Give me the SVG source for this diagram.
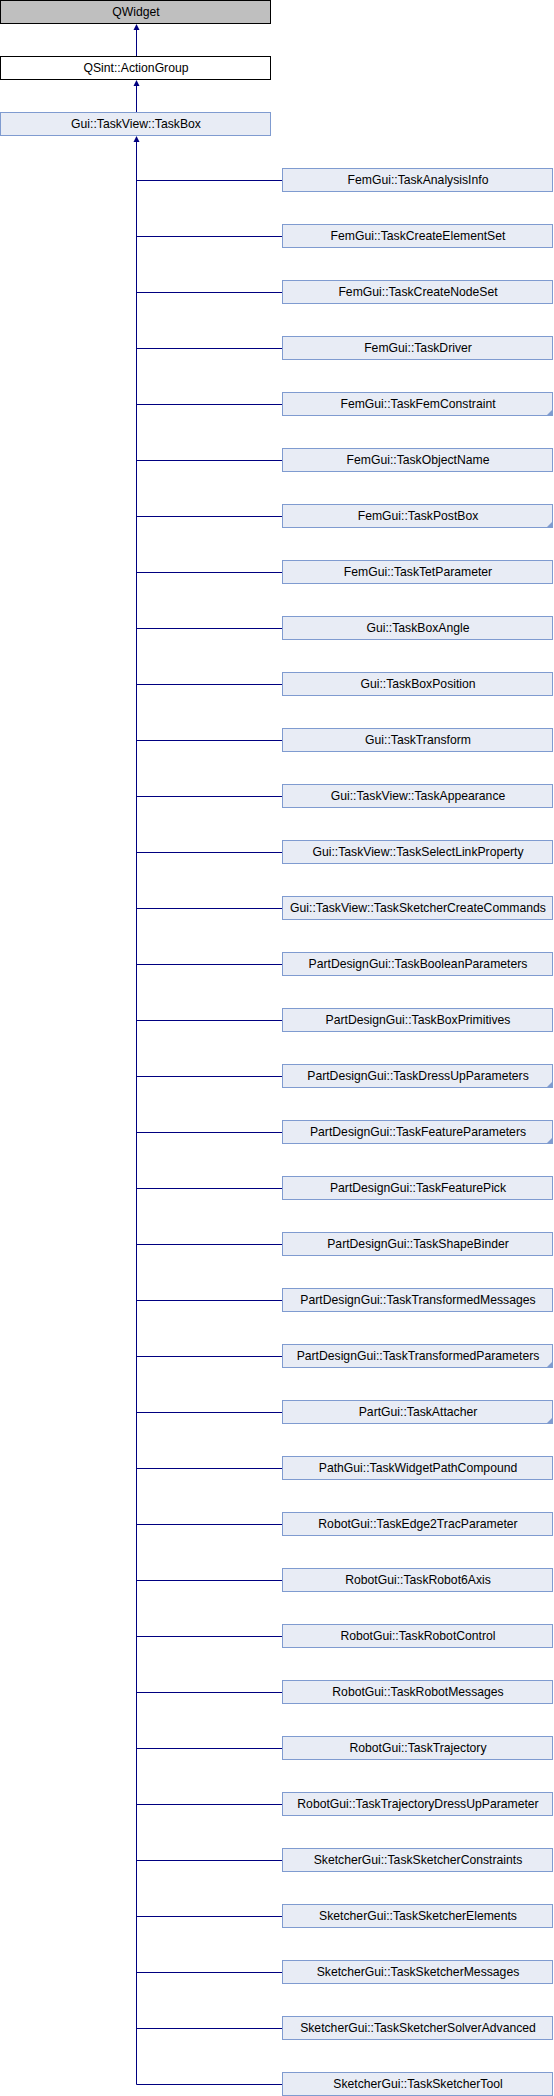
<svg xmlns="http://www.w3.org/2000/svg" width="554" height="2096" viewBox="0 0 554 2096">
<style>
rect.n{fill:#e8ecf5;stroke:#7f9bd0;stroke-width:1}
rect.g{fill:#bfbfbf;stroke:#000;stroke-width:1}
rect.w{fill:#fff;stroke:#000;stroke-width:1}
text{font-family:"Liberation Sans",Arial,sans-serif;font-size:12.2px;fill:#000;text-anchor:middle}
.c{fill:#7f9bd0}
#edges line,#edges path{stroke:#000080;stroke-width:1;fill:none}
.ah{fill:#000080}
</style>
<g id="edges">
<line x1="136.5" y1="30" x2="136.5" y2="56"/>
<polygon class="ah" points="136.5,24 133.5,30 139.5,30"/>
<line x1="136.5" y1="86" x2="136.5" y2="112"/>
<polygon class="ah" points="136.5,80 133.5,86 139.5,86"/>
<line x1="136.5" y1="142" x2="136.5" y2="2084.5"/>
<polygon class="ah" points="136.5,136 133.5,142 139.5,142"/>
<path d="M136.5 180.5H282M136.5 236.5H282M136.5 292.5H282M136.5 348.5H282M136.5 404.5H282M136.5 460.5H282M136.5 516.5H282M136.5 572.5H282M136.5 628.5H282M136.5 684.5H282M136.5 740.5H282M136.5 796.5H282M136.5 852.5H282M136.5 908.5H282M136.5 964.5H282M136.5 1020.5H282M136.5 1076.5H282M136.5 1132.5H282M136.5 1188.5H282M136.5 1244.5H282M136.5 1300.5H282M136.5 1356.5H282M136.5 1412.5H282M136.5 1468.5H282M136.5 1524.5H282M136.5 1580.5H282M136.5 1636.5H282M136.5 1692.5H282M136.5 1748.5H282M136.5 1804.5H282M136.5 1860.5H282M136.5 1916.5H282M136.5 1972.5H282M136.5 2028.5H282M136.5 2084.5H282"/>
</g>
<g id="QWidget"><rect class="g" x="0.5" y="0.5" width="270" height="23"/><text x="136" y="16">QWidget</text></g>
<g id="ActionGroup"><rect class="w" x="0.5" y="56.5" width="270" height="23"/><text x="136" y="72">QSint::ActionGroup</text></g>
<g id="TaskBox"><rect class="n" x="0.5" y="112.5" width="270" height="23"/><text x="136" y="128">Gui::TaskView::TaskBox</text></g>
<g id="n1"><rect class="n" x="282.5" y="168.5" width="270" height="23"/><text x="418" y="184">FemGui::TaskAnalysisInfo</text></g>
<g id="n2"><rect class="n" x="282.5" y="224.5" width="270" height="23"/><text x="418" y="240">FemGui::TaskCreateElementSet</text></g>
<g id="n3"><rect class="n" x="282.5" y="280.5" width="270" height="23"/><text x="418" y="296">FemGui::TaskCreateNodeSet</text></g>
<g id="n4"><rect class="n" x="282.5" y="336.5" width="270" height="23"/><text x="418" y="352">FemGui::TaskDriver</text></g>
<g id="n5"><rect class="n" x="282.5" y="392.5" width="270" height="23"/><polygon class="c" points="553,409 553,416 546,416"/><text x="418" y="408">FemGui::TaskFemConstraint</text></g>
<g id="n6"><rect class="n" x="282.5" y="448.5" width="270" height="23"/><text x="418" y="464">FemGui::TaskObjectName</text></g>
<g id="n7"><rect class="n" x="282.5" y="504.5" width="270" height="23"/><polygon class="c" points="553,521 553,528 546,528"/><text x="418" y="520">FemGui::TaskPostBox</text></g>
<g id="n8"><rect class="n" x="282.5" y="560.5" width="270" height="23"/><text x="418" y="576">FemGui::TaskTetParameter</text></g>
<g id="n9"><rect class="n" x="282.5" y="616.5" width="270" height="23"/><text x="418" y="632">Gui::TaskBoxAngle</text></g>
<g id="n10"><rect class="n" x="282.5" y="672.5" width="270" height="23"/><text x="418" y="688">Gui::TaskBoxPosition</text></g>
<g id="n11"><rect class="n" x="282.5" y="728.5" width="270" height="23"/><text x="418" y="744">Gui::TaskTransform</text></g>
<g id="n12"><rect class="n" x="282.5" y="784.5" width="270" height="23"/><text x="418" y="800">Gui::TaskView::TaskAppearance</text></g>
<g id="n13"><rect class="n" x="282.5" y="840.5" width="270" height="23"/><text x="418" y="856">Gui::TaskView::TaskSelectLinkProperty</text></g>
<g id="n14"><rect class="n" x="282.5" y="896.5" width="270" height="23"/><text x="418" y="912">Gui::TaskView::TaskSketcherCreateCommands</text></g>
<g id="n15"><rect class="n" x="282.5" y="952.5" width="270" height="23"/><text x="418" y="968">PartDesignGui::TaskBooleanParameters</text></g>
<g id="n16"><rect class="n" x="282.5" y="1008.5" width="270" height="23"/><text x="418" y="1024">PartDesignGui::TaskBoxPrimitives</text></g>
<g id="n17"><rect class="n" x="282.5" y="1064.5" width="270" height="23"/><polygon class="c" points="553,1081 553,1088 546,1088"/><text x="418" y="1080">PartDesignGui::TaskDressUpParameters</text></g>
<g id="n18"><rect class="n" x="282.5" y="1120.5" width="270" height="23"/><polygon class="c" points="553,1137 553,1144 546,1144"/><text x="418" y="1136">PartDesignGui::TaskFeatureParameters</text></g>
<g id="n19"><rect class="n" x="282.5" y="1176.5" width="270" height="23"/><text x="418" y="1192">PartDesignGui::TaskFeaturePick</text></g>
<g id="n20"><rect class="n" x="282.5" y="1232.5" width="270" height="23"/><text x="418" y="1248">PartDesignGui::TaskShapeBinder</text></g>
<g id="n21"><rect class="n" x="282.5" y="1288.5" width="270" height="23"/><text x="418" y="1304">PartDesignGui::TaskTransformedMessages</text></g>
<g id="n22"><rect class="n" x="282.5" y="1344.5" width="270" height="23"/><polygon class="c" points="553,1361 553,1368 546,1368"/><text x="418" y="1360">PartDesignGui::TaskTransformedParameters</text></g>
<g id="n23"><rect class="n" x="282.5" y="1400.5" width="270" height="23"/><polygon class="c" points="553,1417 553,1424 546,1424"/><text x="418" y="1416">PartGui::TaskAttacher</text></g>
<g id="n24"><rect class="n" x="282.5" y="1456.5" width="270" height="23"/><text x="418" y="1472">PathGui::TaskWidgetPathCompound</text></g>
<g id="n25"><rect class="n" x="282.5" y="1512.5" width="270" height="23"/><text x="418" y="1528">RobotGui::TaskEdge2TracParameter</text></g>
<g id="n26"><rect class="n" x="282.5" y="1568.5" width="270" height="23"/><text x="418" y="1584">RobotGui::TaskRobot6Axis</text></g>
<g id="n27"><rect class="n" x="282.5" y="1624.5" width="270" height="23"/><text x="418" y="1640">RobotGui::TaskRobotControl</text></g>
<g id="n28"><rect class="n" x="282.5" y="1680.5" width="270" height="23"/><text x="418" y="1696">RobotGui::TaskRobotMessages</text></g>
<g id="n29"><rect class="n" x="282.5" y="1736.5" width="270" height="23"/><text x="418" y="1752">RobotGui::TaskTrajectory</text></g>
<g id="n30"><rect class="n" x="282.5" y="1792.5" width="270" height="23"/><text x="418" y="1808">RobotGui::TaskTrajectoryDressUpParameter</text></g>
<g id="n31"><rect class="n" x="282.5" y="1848.5" width="270" height="23"/><text x="418" y="1864">SketcherGui::TaskSketcherConstraints</text></g>
<g id="n32"><rect class="n" x="282.5" y="1904.5" width="270" height="23"/><text x="418" y="1920">SketcherGui::TaskSketcherElements</text></g>
<g id="n33"><rect class="n" x="282.5" y="1960.5" width="270" height="23"/><text x="418" y="1976">SketcherGui::TaskSketcherMessages</text></g>
<g id="n34"><rect class="n" x="282.5" y="2016.5" width="270" height="23"/><text x="418" y="2032">SketcherGui::TaskSketcherSolverAdvanced</text></g>
<g id="n35"><rect class="n" x="282.5" y="2072.5" width="270" height="23"/><text x="418" y="2088">SketcherGui::TaskSketcherTool</text></g>
</svg>
